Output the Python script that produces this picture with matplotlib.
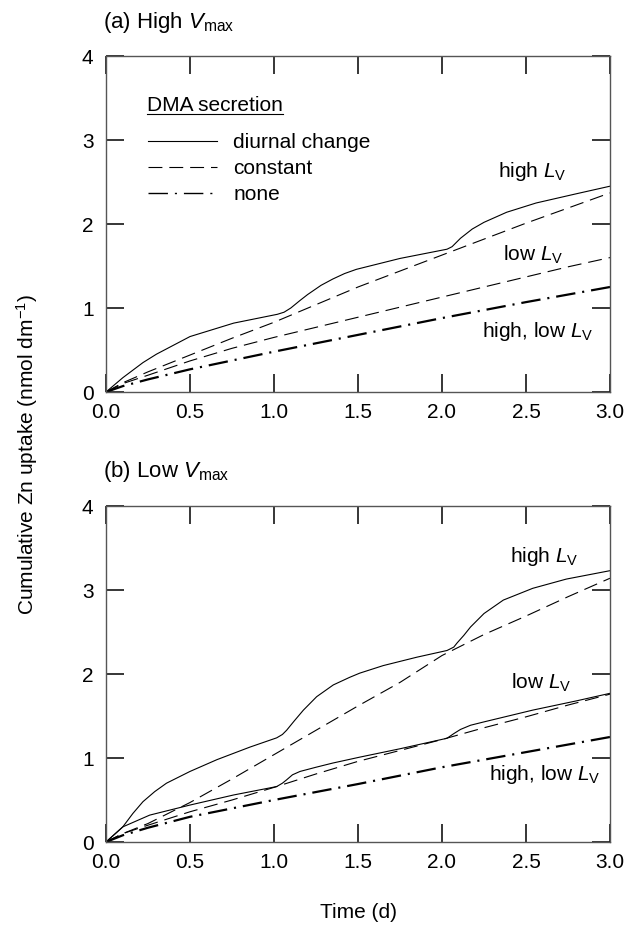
import matplotlib
matplotlib.use("Agg")
import matplotlib.pyplot as plt
from matplotlib.lines import Line2D

plt.rcParams['font.family'] = ['Liberation Sans', 'DejaVu Sans']
plt.rcParams['mathtext.fontset'] = 'custom'
plt.rcParams['mathtext.rm'] = 'Liberation Sans'
plt.rcParams['mathtext.it'] = 'Liberation Sans:italic'
plt.rcParams['lines.scale_dashes'] = False
plt.rcParams['font.size'] = 15

# ---- (a) high Vmax ----
a_diurnal_high_t = [0, 0.1, 0.22, 0.3, 0.5, 0.76, 1.02, 1.06, 1.1, 1.155, 1.2, 1.28, 1.35, 1.42,
                    1.49, 1.75, 2.03, 2.06, 2.11, 2.18, 2.25, 2.385, 2.56, 2.8, 3.0]
a_diurnal_high = [0, 0.17, 0.35, 0.45, 0.66, 0.82, 0.925, 0.95, 1.0, 1.09, 1.16, 1.27, 1.345, 1.41,
                  1.46, 1.59, 1.70, 1.73, 1.83, 1.94, 2.02, 2.14, 2.25, 2.36, 2.45]
a_const_t = [0, 0.1, 0.25, 0.5, 0.75, 1.0, 1.25, 1.5, 1.75, 2.0, 2.25, 2.5, 2.75, 3.0]
a_const_high = [0, 0.11, 0.24, 0.44, 0.64, 0.83, 1.04, 1.25, 1.44, 1.63, 1.82, 2.01, 2.19, 2.37]
a_const_low = [0, 0.1, 0.2, 0.37, 0.52, 0.65, 0.77, 0.89, 1.01, 1.13, 1.25, 1.37, 1.49, 1.60]
a_none_t = [0, 0.1, 0.25, 0.5, 1.0, 1.5, 2.0, 2.5, 3.0]
a_none = [0, 0.07, 0.15, 0.27, 0.48, 0.68, 0.88, 1.07, 1.25]

# ---- (b) low Vmax ----
b_diurnal_high_t = [0, 0.1, 0.16, 0.22, 0.29, 0.36, 0.5, 0.66, 0.857, 1.016, 1.05, 1.075, 1.12,
                    1.175, 1.254, 1.353, 1.45, 1.51, 1.65, 1.85, 2.03, 2.07, 2.09, 2.13, 2.17,
                    2.25, 2.365, 2.54, 2.74, 3.0]
b_diurnal_high = [0, 0.18, 0.34, 0.48, 0.60, 0.70, 0.84, 0.98, 1.13, 1.24, 1.28, 1.33, 1.44,
                  1.57, 1.73, 1.87, 1.96, 2.01, 2.10, 2.20, 2.28, 2.32, 2.37, 2.46, 2.56,
                  2.72, 2.88, 3.02, 3.13, 3.23]
b_diurnal_low_t = [0, 0.1, 0.26, 0.5, 0.76, 1.016, 1.05, 1.075, 1.11, 1.155, 1.25, 1.35, 1.51,
                   1.75, 2.03, 2.07, 2.11, 2.17, 2.25, 2.54, 2.8, 3.0]
b_diurnal_low = [0, 0.18, 0.32, 0.44, 0.56, 0.66, 0.70, 0.74, 0.80, 0.84, 0.89, 0.94, 1.01,
                 1.11, 1.235, 1.29, 1.34, 1.39, 1.43, 1.57, 1.68, 1.77]
b_const_t = [0, 0.1, 0.25, 0.5, 0.75, 1.0, 1.25, 1.5, 1.75, 2.0, 2.25, 2.5, 2.75, 3.0]
b_const_high = [0, 0.1, 0.22, 0.47, 0.75, 1.04, 1.33, 1.62, 1.9, 2.22, 2.47, 2.69, 2.92, 3.14]
b_const_low = [0, 0.1, 0.2, 0.36, 0.50, 0.65, 0.81, 0.96, 1.09, 1.22, 1.36, 1.49, 1.63, 1.76]
b_none_t = [0, 0.1, 0.25, 0.5, 1.0, 1.5, 2.0, 2.5, 3.0]
b_none = [0, 0.08, 0.17, 0.30, 0.50, 0.69, 0.89, 1.07, 1.25]

x_ticks = [0.0, 0.5, 1.0, 1.5, 2.0, 2.5, 3.0]
y_ticks = [0, 1, 2, 3, 4]

W, H = 643, 925
DASH = (0, (10, 5))
DASHDOT = (0, (14, 5, 1.5, 5))
LW = 0.8


def style_axes(ax):
    ax.set_xlim(0, 3)
    ax.set_ylim(0, 4)
    ax.set_xticks(x_ticks)
    ax.set_xticklabels(['%.1f' % v for v in x_ticks])
    ax.set_yticks(y_ticks)
    ax.xaxis.set_ticks_position('both')
    ax.yaxis.set_ticks_position('both')
    ax.tick_params(which='major', direction='in', length=13, width=1.1,
                   labelsize=15, color='black')
    ax.tick_params(axis='x', pad=8)
    ax.tick_params(axis='y', pad=9)
    for sp in ax.spines.values():
        sp.set_color('#555555')
        sp.set_linewidth(1.0)


def plot_panel(ax, diurnal, const, none, labels):
    for t, v in diurnal:
        ax.plot(t, v, color='black', lw=LW)
    for t, v in const:
        ax.plot(t, v, color='black', lw=LW, linestyle=DASH)
    ax.plot(none[0], none[1], color='black', lw=1.6, linestyle=DASHDOT)
    for (x, y, s) in labels:
        ax.text(x, y, s, ha='center', va='center', fontsize=15)
    style_axes(ax)


fig = plt.figure(figsize=(W / 100, H / 100), dpi=100)
ax1 = fig.add_axes([106 / W, 1 - 392 / H, 504 / W, 336 / H])
ax2 = fig.add_axes([106 / W, 1 - 842 / H, 504 / W, 336 / H])

plot_panel(ax1,
           [(a_diurnal_high_t, a_diurnal_high)],
           [(a_const_t, a_const_high), (a_const_t, a_const_low)],
           (a_none_t, a_none),
           [(2.54, 2.62, r'high $L_{\rm V}$'), (2.54, 1.63, r'low $L_{\rm V}$'),
            (2.57, 0.72, r'high, low $L_{\rm V}$')])

plot_panel(ax2,
           [(b_diurnal_high_t, b_diurnal_high), (b_diurnal_low_t, b_diurnal_low)],
           [(b_const_t, b_const_high), (b_const_t, b_const_low)],
           (b_none_t, b_none),
           [(2.61, 3.40, r'high $L_{\rm V}$'), (2.59, 1.89, r'low $L_{\rm V}$'),
            (2.61, 0.80, r'high, low $L_{\rm V}$')])

# legend
handles = [Line2D([], [], color='black', lw=LW),
           Line2D([], [], color='black', lw=LW, linestyle=DASH),
           Line2D([], [], color='black', lw=1.0, linestyle=DASHDOT)]
ax1.legend(handles, ['diurnal change', 'constant', 'none'], loc='upper left',
           bbox_to_anchor=(0.083, 0.77), frameon=False, borderpad=0, borderaxespad=0,
           handlelength=3.3, handletextpad=0.8, labelspacing=0.33, fontsize=15)
leg_title = ax1.text(0.081, 0.853, 'DMA secretion', transform=ax1.transAxes,
                     ha='left', va='center', fontsize=15)

fig.text(103 / W, 1 - 28 / H, r'(a) High $V_{\rm max}$', fontsize=16, va='baseline')
fig.text(103 / W, 1 - 477 / H, r'(b) Low $V_{\rm max}$', fontsize=16, va='baseline')
fig.text(27 / W, 1 - 455 / H, r'Cumulative Zn uptake (nmol dm$^{-1}$)', rotation=90,
         ha='center', va='center', fontsize=15)
fig.text(358 / W, 1 - 913 / H, 'Time (d)', ha='center', va='center', fontsize=15)

# underline the legend heading
fig.canvas.draw()
bb = leg_title.get_window_extent(fig.canvas.get_renderer())
fig.add_artist(Line2D([bb.x0 / W, bb.x1 / W], [(bb.y0 + 1) / H] * 2,
                      transform=fig.transFigure, color='black', lw=0.8))

fig.savefig('out.png', dpi=100)
